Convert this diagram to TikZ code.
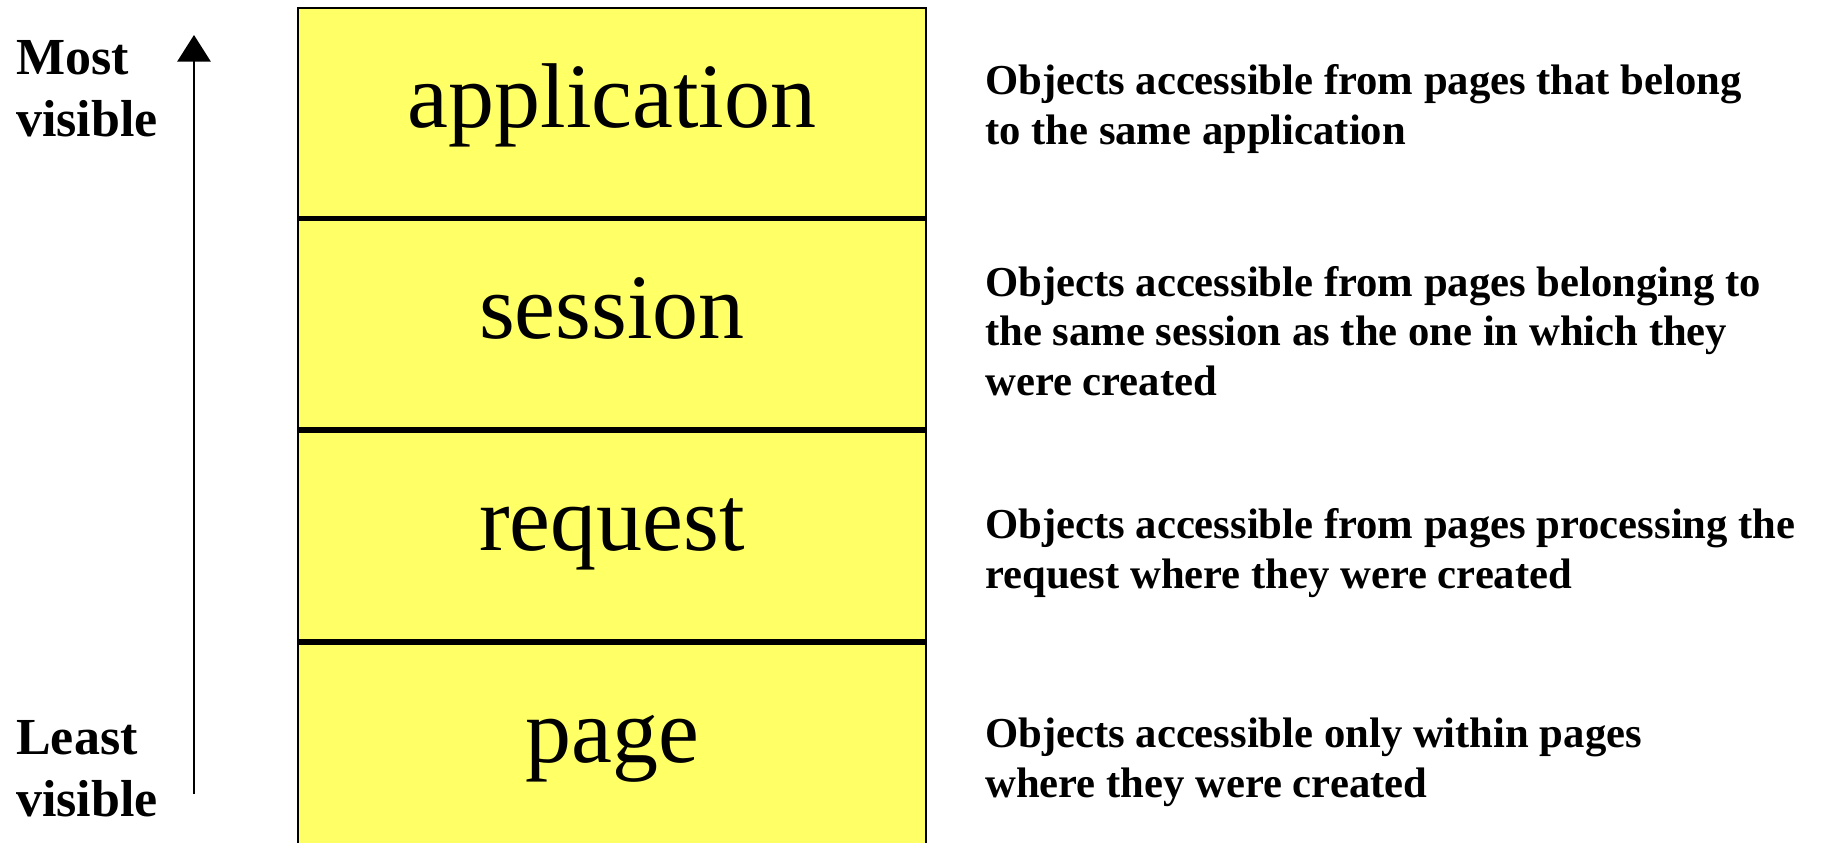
\documentclass[tikz,border=0pt]{standalone}
\usepackage{fontspec}
\setmainfont{Liberation Serif}
\usetikzlibrary{positioning,arrows.meta}

\begin{document}
\begin{tikzpicture}[x=0.75pt, y=-0.75pt,
  cell/.style={draw, line width=2.2pt, fill=scopeyellow, minimum width=471pt,
    minimum height=156.75pt, inner sep=0pt, text height=50pt, text depth=28.2pt,
    font=\fontsize{69}{80}\selectfont},
  desc/.style={anchor=base west, align=left, inner sep=0pt,
    font=\fontsize{32}{37}\selectfont\bfseries},
  side/.style={anchor=base west, align=left, inner sep=0pt,
    font=\fontsize{39}{46.5}\selectfont\bfseries}]
\definecolor{scopeyellow}{RGB}{255,255,102}
\useasboundingbox (0,0) rectangle (1822,842);
\clip (0,0) rectangle (1822,842);

\node [cell] (app) at (612,112.5) {application};
\node [cell, below=0pt of app] (sess) {session};
\node [cell, below=0pt of sess] (req) {request};
\node [cell, below=0pt of req] (pg) {page};

\node [desc] (appdesc) at (985,144) {Objects accessible from pages that belong\\to the same application};
\node [desc] (sessdesc) at (985,395) {Objects accessible from pages belonging to\\the same session as the one in which they\\were created};
\node [desc] (reqdesc) at (985,588) {Objects accessible from pages processing the\\request where they were created};
\node [desc] (pgdesc) at (985,797) {Objects accessible only within pages\\where they were created};

\node [side] (most) at (16,136) {Most\\visible};
\node [side] (least) at (16,816) {Least\\visible};

\coordinate (low) at (194,794);
\coordinate (high) at (194,35);
\draw [line width=1.5pt, -{Triangle[width=25pt, length=20pt]}] (low) -- (high);
\end{tikzpicture}
\end{document}
